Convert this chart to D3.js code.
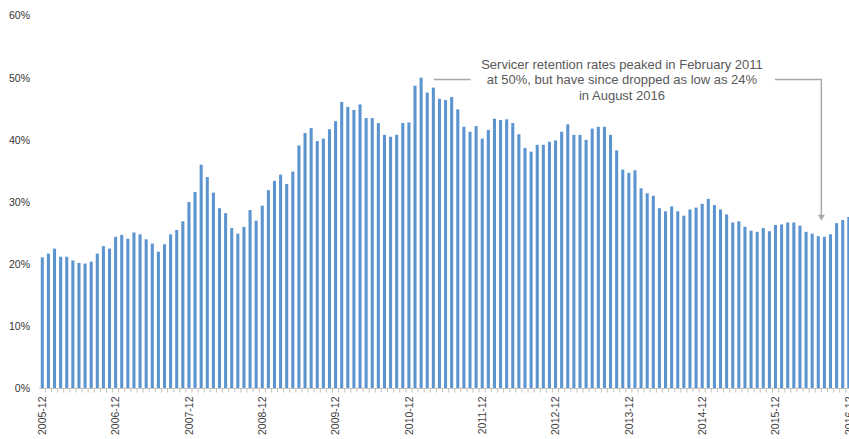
<!DOCTYPE html>
<html>
<head>
<meta charset="utf-8">
<script src="https://cdn.jsdelivr.net/npm/d3@7"></script>
<style>
  html, body { margin: 0; padding: 0; background: #fff; }
  svg { display: block; }
  text { font-family: "Liberation Sans", Arial, sans-serif; }
</style>
</head>
<body>
<svg id="chart" width="849" height="439"></svg>
<script>
// Monthly servicer retention rate (%), December 2005 through December 2016
const firstMonth = new Date(2005, 11, 1);
const endMonth = new Date(2017, 0, 1);
const months = d3.timeMonth.range(firstMonth, endMonth).map(d3.timeFormat("%Y-%m"));

const retention = [
  21.1, 21.7, 22.5, 21.2, 21.2, 20.6, 20.2, 20.1, 20.4, 21.7, 22.9, 22.5,
  24.4, 24.7, 24.1, 25.1, 24.8, 24.0, 23.3, 22.0, 23.2, 24.8, 25.5, 26.9,
  30.0, 31.6, 36.0, 34.0, 31.5, 29.0, 28.2, 25.8, 24.9, 26.0, 28.7, 27.0,
  29.4, 31.9, 33.4, 34.4, 32.9, 34.9, 39.1, 41.1, 41.9, 39.8, 40.2, 41.7,
  43.0, 46.1, 45.3, 44.8, 45.7, 43.5, 43.5, 42.7, 40.8, 40.5, 40.8, 42.7,
  42.8, 48.7, 50.0, 47.6, 48.4, 46.6, 46.4, 46.9, 44.9, 42.1, 41.3, 42.2,
  40.2, 41.6, 43.4, 43.2, 43.3, 42.7, 40.9, 38.7, 38.1, 39.2, 39.2, 39.7,
  39.9, 41.3, 42.5, 40.8, 40.8, 40.0, 41.8, 42.1, 42.1, 40.8, 38.3, 35.2,
  34.7, 35.1, 32.2, 31.4, 31.0, 29.0, 28.5, 29.3, 28.5, 27.8, 28.8, 29.1,
  29.7, 30.5, 29.5, 28.8, 28.0, 26.7, 26.9, 26.0, 25.4, 25.2, 25.8, 25.3,
  26.3, 26.4, 26.7, 26.7, 26.2, 25.2, 24.9, 24.5, 24.4, 24.8, 26.6, 27.1,
  27.6
];

const xTickLabels = ["2005-12", "2006-12", "2007-12", "2008-12", "2009-12", "2010-12",
                     "2011-12", "2012-12", "2013-12", "2014-12", "2015-12", "2016-12"];
const yTicks = [0, 10, 20, 30, 40, 50, 60];

const noteLines = [
  "Servicer retention rates peaked in February 2011",
  "at 50%, but have since dropped as low as 24%",
  "in August 2016"
];
const peakMonth = "2011-02";
const lowMonth = "2016-08";

const data = months.map((m, i) => ({ month: m, value: retention[i] }));

const svg = d3.select("#chart");

const x = d3.scaleBand()
  .domain(months)
  .range([39.25, 39.25 + months.length * 6.11])
  .paddingInner(0.5)
  .paddingOuter(0.25);

const y = d3.scaleLinear()
  .domain([0, 60])
  .range([388.5, 15.5]);

const step = x.step();
const baseY = y(0);

// Bars
svg.append("g")
  .selectAll("rect")
  .data(data)
  .join("rect")
  .attr("x", d => x(d.month))
  .attr("y", d => y(d.value))
  .attr("width", x.bandwidth())
  .attr("height", d => baseY - y(d.value))
  .attr("fill", "#5b94cf");

// Baseline and month separators
const xAxis = svg.append("g");
xAxis.append("line")
  .attr("x1", 39).attr("x2", 849)
  .attr("y1", baseY).attr("y2", baseY)
  .attr("stroke", "#c4c4c4").attr("stroke-width", 1);
xAxis.selectAll("line.sep")
  .data(months)
  .join("line")
  .attr("class", "sep")
  .attr("x1", m => x(m) + x.bandwidth() / 2 + step / 2)
  .attr("x2", m => x(m) + x.bandwidth() / 2 + step / 2)
  .attr("y1", baseY).attr("y2", baseY + 4)
  .attr("stroke", "#c8c0b4").attr("stroke-width", 1);

// Year-end labels, rotated
svg.append("g")
  .attr("transform", `translate(0,${baseY})`)
  .call(d3.axisBottom(x).tickValues(xTickLabels).tickSize(0).tickPadding(8))
  .call(g => g.select(".domain").remove())
  .call(g => g.selectAll("text")
    .attr("transform", "rotate(-90)")
    .attr("text-anchor", "end")
    .attr("x", -8)
    .attr("y", 0)
    .attr("dy", "0.35em")
    .attr("fill", "#404040")
    .style("font-size", "10.5px")
    .style("font-family", "'Liberation Sans', Arial, sans-serif"));

// Percent labels
svg.append("g")
  .attr("transform", "translate(30,0)")
  .call(d3.axisLeft(y).tickValues(yTicks).tickSize(0).tickPadding(0).tickFormat(d => d + "%"))
  .call(g => g.select(".domain").remove())
  .call(g => g.selectAll("text")
    .attr("fill", "#333")
    .style("font-size", "10.5px")
    .style("font-family", "'Liberation Sans', Arial, sans-serif"));

// Annotation
const noteX = 622;
const note = svg.append("text")
  .attr("text-anchor", "middle")
  .attr("fill", "#595959")
  .style("font-size", "13px");
note.selectAll("tspan")
  .data(noteLines)
  .join("tspan")
  .attr("x", noteX)
  .attr("y", (d, i) => 68.5 + i * 15.75)
  .text(d => d);

const connectorY = y(d3.max(retention)) + 1.8;
const gray = "#a9a9a9";

svg.append("line")
  .attr("x1", x(peakMonth) + x.bandwidth() + 11)
  .attr("x2", x(peakMonth) + x.bandwidth() + 48)
  .attr("y1", connectorY).attr("y2", connectorY)
  .attr("stroke", gray).attr("stroke-width", 1.5);

const lowVal = retention[months.indexOf(lowMonth)];
const arrowX = x(lowMonth) - 1.5;
const arrowTipY = y(lowVal) - 16;

svg.append("path")
  .attr("d", `M775,${connectorY} H${arrowX} V${arrowTipY - 5}`)
  .attr("fill", "none")
  .attr("stroke", gray).attr("stroke-width", 1.5);

svg.append("path")
  .attr("d", `M${arrowX - 3.5},${arrowTipY - 6} L${arrowX + 3.5},${arrowTipY - 6} L${arrowX},${arrowTipY} Z`)
  .attr("fill", gray);
</script>
</body>
</html>
